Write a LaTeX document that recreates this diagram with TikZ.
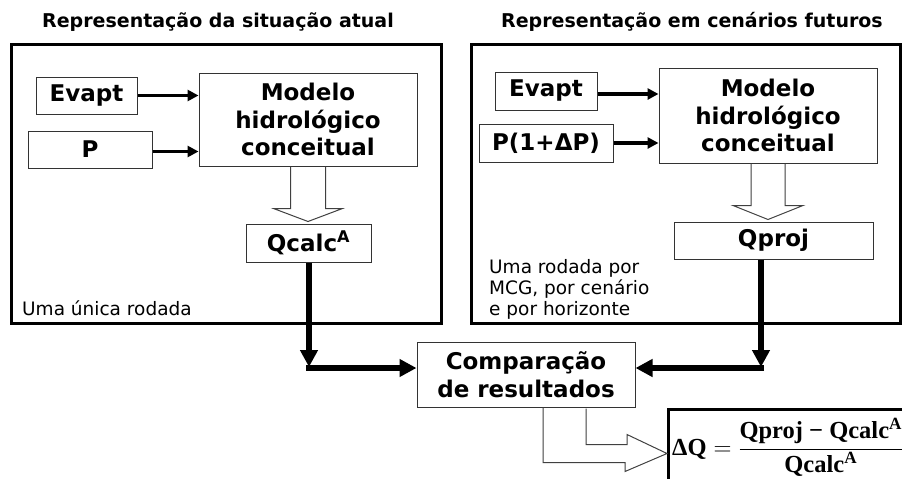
\documentclass[tikz,border=0pt]{standalone}
\usepackage{fontspec}
\setmainfont{DejaVu Sans}
\newfontfamily\fmla{Liberation Serif}
\usetikzlibrary{arrows.meta,calc}
\tikzset{
  frame/.style={draw=black, line width=3pt},
  box/.style={draw=black!80, line width=1pt, inner sep=0pt, align=center,
    font=\bfseries\fontsize{23}{27.5}\selectfont},
  inarrow/.style={draw=black, line width=3.5pt, -{Triangle[length=11pt,width=11pt]}},
  bigarrow/.style={draw=black, line width=6pt, -{Triangle[length=17pt,width=17pt]}},
  hollow/.style={draw=black!75, line width=1pt, line join=miter},
  ttl/.style={font=\bfseries\fontsize{19}{22}\selectfont},
  note/.style={font=\fontsize{18.5}{21}\selectfont, align=left, anchor=north west, inner sep=0pt}
}
\begin{document}
\begin{tikzpicture}[x=1pt,y=-1pt]
\clip (0,0) rectangle (902,479);
\fill[white] (0,0) rectangle (902,479);

% titles
\node[ttl] (t1) at (218,22) {Representação da situação atual};
\node[ttl] (t2) at (692,22) {Representação em cenários futuros};

% frames
\draw[frame] (11,44) rectangle (441,323);
\draw[frame] (471,44) rectangle (900,323);

% left panel
\node[box, minimum width=101pt, minimum height=37pt] (evL) at (86.5,95.5) {Evapt};
\node[box, minimum width=124pt, minimum height=37pt] (pL) at (90,149.5) {P};
\node[box, minimum width=218pt, minimum height=93pt] (modL) at (308,119.5) {Modelo\\hidrológico\\conceitual};
\node[box, minimum width=125pt, minimum height=38pt] (qcL) at (308.5,243) {Qcalc\textsuperscript{A}};
\node[note] (nL) at (22,300) {Uma única rodada};

\draw[inarrow] (evL.east) -- (evL.east -| modL.west);
\draw[inarrow] ([yshift=-2pt]pL.east) -- ([yshift=-2pt]pL.east -| modL.west);
\draw[hollow] ($(modL.south)+(-17.5,0)$) -- ++(0,42) -- ++(-17,0) -- ++(34.5,13)
   -- ++(34.5,-13) -- ++(-17,0) -- ++(0,-42);

% right panel
\node[box, minimum width=102pt, minimum height=38pt] (evR) at (546,91) {Evapt};
\node[box, minimum width=134pt, minimum height=38pt] (pR) at (546,143) {P(1+ΔP)};
\node[box, minimum width=218pt, minimum height=95pt] (modR) at (768,115.5) {Modelo\\hidrológico\\conceitual};
\node[box, minimum width=199pt, minimum height=37pt] (qpR) at (773.5,240.5) {Qproj};
\node[note] (nR) at (489,259) {Uma rodada por\\MCG, por cenário\\e por horizonte};

\draw[inarrow] ([yshift=-3pt]evR.east) -- ([yshift=-3pt]evR.east -| modR.west);
\draw[inarrow] (pR.east) -- (pR.east -| modR.west);
\draw[hollow] ($(modR.south)+(-17,0)$) -- ++(0,42) -- ++(-18,0) -- ++(35,14)
   -- ++(35,-14) -- ++(-18,0) -- ++(0,-42);

% comparison
\node[box, minimum width=218pt, minimum height=65pt] (comp) at (526,374.5) {Comparação\\de resultados};

\coordinate (cL) at (309,367);
\coordinate (cR) at (761,367);
\draw[bigarrow] (qcL.south -| cL) -- (cL);
\draw[bigarrow] ($(cL)+(-3,1)$) -- ($(cL -| comp.west)+(0,1)$);
\draw[bigarrow] (qpR.south -| cR) -- (cR);
\draw[bigarrow] ($(cR)+(3,1)$) -- ($(cR -| comp.east)+(0,1)$);

% formula box
\node[draw=black, line width=3pt, minimum width=260pt, minimum height=88pt,
      anchor=north west, inner sep=0pt] (fbox) at (667,408) {};
\node[anchor=west, inner sep=0pt,
      font=\fmla\bfseries\fontsize{24.5}{27}\selectfont] (fml) at (672,447)
  {$\mbox{ΔQ}=\displaystyle\frac{\mbox{\fmla\bfseries Qproj − Qcalc\textsuperscript{A}}}{\mbox{\fmla\bfseries Qcalc\textsuperscript{A}}}$};

% bent hollow arrow
\draw[hollow] ($(comp.south)+(17,0)$) -- ++(0,55) -- ++(82,0) -- ++(0,9)
   -- (fbox.west) -- ++(-40,-19) -- ++(0,10) -- ++(-41,0) -- ++(0,-36);
\end{tikzpicture}
\end{document}
